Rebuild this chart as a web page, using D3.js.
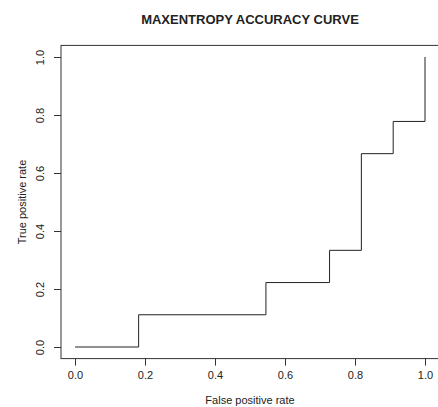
<!DOCTYPE html>
<html>
<head>
<meta charset="utf-8">
<script src="https://cdn.jsdelivr.net/npm/d3@7"></script>
<style>
  body { margin: 0; background: #fff; }
  svg { display: block; font-family: "Liberation Sans", Arial, sans-serif; }
</style>
</head>
<body>
<script>
// ROC step curve: false positive rate vs true positive rate
var fpr = [0, 0.1818, 0.1818, 0.5455, 0.5455, 0.7273, 0.7273, 0.8182, 0.8182, 0.9091, 0.9091, 1, 1];
var tpr = [0, 0, 0.1111, 0.1111, 0.2222, 0.2222, 0.3333, 0.3333, 0.6667, 0.6667, 0.7778, 0.7778, 1];
var xTicks = [0, 0.2, 0.4, 0.6, 0.8, 1.0];
var yTicks = [0, 0.2, 0.4, 0.6, 0.8, 1.0];
var title = "MAXENTROPY ACCURACY CURVE";
var xLabel = "False positive rate";
var yLabel = "True positive rate";

var width = 438, height = 407;
var ink = "#222";

var svg = d3.select("body").append("svg")
    .attr("width", width)
    .attr("height", height);

var x = d3.scaleLinear().domain([-0.04, 1.04]).range([61, 439]);
var y = d3.scaleLinear().domain([-0.04, 1.04]).range([358.6, 45.4]);

// plot box
svg.append("rect")
    .attr("x", x(-0.04))
    .attr("y", y(1.04))
    .attr("width", x(1.04) - x(-0.04))
    .attr("height", y(-0.04) - y(1.04))
    .attr("fill", "none")
    .attr("stroke", "#333")
    .attr("stroke-width", 1);

// x axis
var gx = svg.append("g")
    .attr("transform", "translate(0," + y(-0.04) + ")")
    .call(d3.axisBottom(x).tickValues(xTicks).tickSize(7).tickPadding(6)
        .tickFormat(d3.format(".1f")));
gx.select(".domain").remove();
gx.selectAll("line").attr("stroke", "#333");
gx.selectAll("text").attr("font-size", 11).attr("fill", ink)
    .attr("font-family", "Liberation Sans, Arial, sans-serif");

// y axis, labels rotated like R's default
var gy = svg.append("g")
    .attr("transform", "translate(" + x(-0.04) + ",0)")
    .call(d3.axisLeft(y).tickValues(yTicks).tickSize(7).tickFormat(d3.format(".1f")));
gy.select(".domain").remove();
gy.selectAll("line").attr("stroke", "#333");
gy.selectAll("text").remove();
gy.selectAll(".tick").append("text")
    .attr("transform", "translate(-17,0) rotate(-90)")
    .attr("text-anchor", "middle")
    .attr("font-size", 11)
    .attr("fill", ink)
    .text(function (d) { return d3.format(".1f")(d); });

// step line
var line = d3.line()
    .x(function (d) { return x(d[0]); })
    .y(function (d) { return y(d[1]); });
svg.append("path")
    .datum(d3.zip(fpr, tpr))
    .attr("d", line)
    .attr("fill", "none")
    .attr("stroke", ink)
    .attr("stroke-width", 1);

// titles
svg.append("text")
    .attr("x", (x(-0.04) + x(1.04)) / 2)
    .attr("y", 24)
    .attr("text-anchor", "middle")
    .attr("font-size", 13)
    .attr("font-weight", "bold")
    .attr("fill", ink)
    .text(title);

svg.append("text")
    .attr("x", (x(-0.04) + x(1.04)) / 2)
    .attr("y", 404)
    .attr("text-anchor", "middle")
    .attr("font-size", 11)
    .attr("fill", ink)
    .text(xLabel);

svg.append("text")
    .attr("transform", "translate(26," + (y(-0.04) + y(1.04)) / 2 + ") rotate(-90)")
    .attr("text-anchor", "middle")
    .attr("font-size", 11)
    .attr("fill", ink)
    .text(yLabel);
</script>
</body>
</html>
